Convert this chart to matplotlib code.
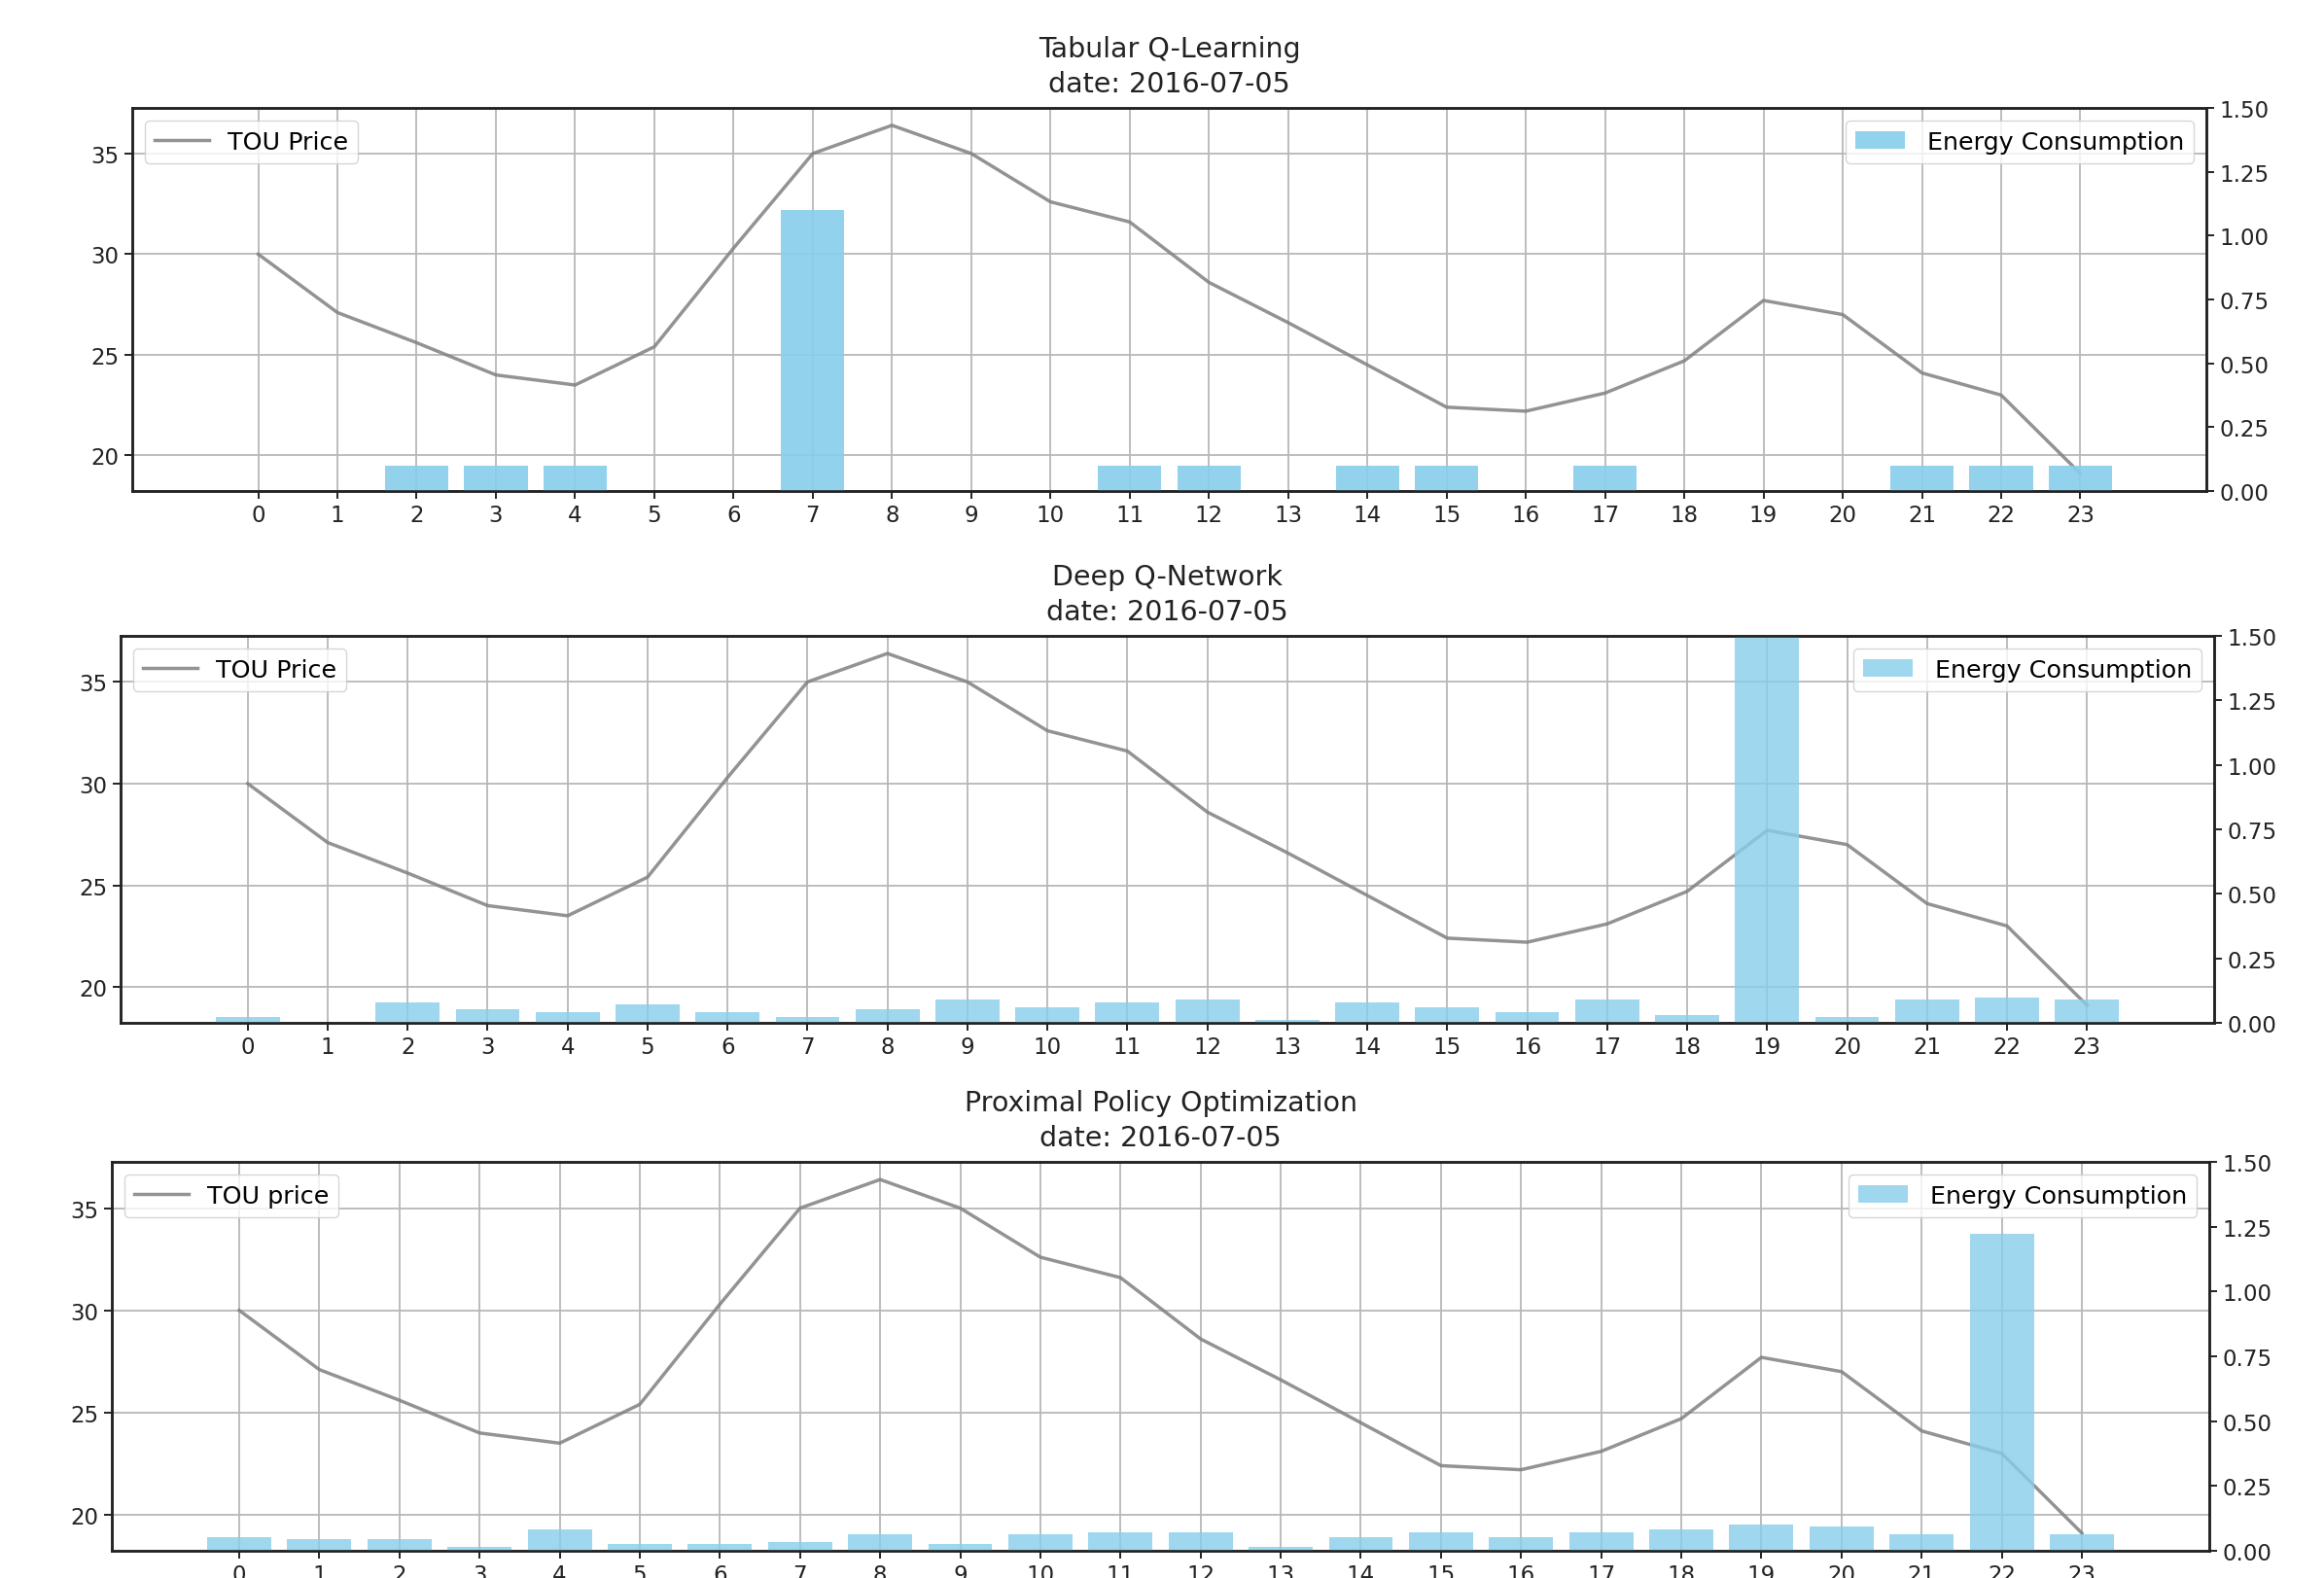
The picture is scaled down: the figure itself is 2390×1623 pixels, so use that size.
import matplotlib
matplotlib.use("Agg")
import matplotlib.pyplot as plt
import numpy as np

hours = list(range(24))
hour_labels = [str(h) for h in hours]

tou_price = [30.0, 27.1, 25.6, 24.0, 23.5, 25.4, 30.3, 35.0, 36.4, 35.0,
             32.6, 31.6, 28.6, 26.6, 24.5, 22.4, 22.2, 23.1, 24.7, 27.7,
             27.0, 24.1, 23.0, 19.1]

energy_tabular = [0.0, 0.0, 0.1, 0.1, 0.1, 0.0, 0.0, 1.1, 0.0, 0.0,
                  0.0, 0.1, 0.1, 0.0, 0.1, 0.1, 0.0, 0.1, 0.0, 0.0,
                  0.0, 0.1, 0.1, 0.1]

energy_dqn = [0.022, 0.0, 0.079, 0.051, 0.040, 0.070, 0.040, 0.022, 0.051, 0.090,
              0.060, 0.079, 0.091, 0.013, 0.081, 0.060, 0.040, 0.091, 0.031, 1.6,
              0.021, 0.091, 0.099, 0.091]

energy_ppo = [0.053, 0.044, 0.044, 0.014, 0.082, 0.025, 0.025, 0.033, 0.063, 0.025,
              0.063, 0.072, 0.072, 0.014, 0.053, 0.072, 0.053, 0.072, 0.082, 0.100,
              0.092, 0.063, 1.223, 0.063]

titles = ["Tabular Q-Learning\ndate: 2016-07-05",
          "Deep Q-Network\ndate: 2016-07-05",
          "Proximal Policy Optimization\ndate: 2016-07-05"]
price_labels = ["TOU Price", "TOU Price", "TOU price"]
energy_sets = [energy_tabular, energy_dqn, energy_ppo]
bar_alphas = [0.9, 0.8, 0.8]

W, H = 2390, 1624
fig = plt.figure(figsize=(W / 100, H / 100), dpi=100)

# axes boxes in pixels: left, right, top, bottom
boxes = [(136, 2269, 112, 506),
         (124, 2277, 655, 1053),
         (115, 2272, 1196, 1596)]

TICK_FS = 16.5
LEG_FS = 18.3
TITLE_FS = 20.5

for i in range(3):
    l, r, t, b = boxes[i]
    ax1 = fig.add_axes([l / W, 1 - b / H, (r - l) / W, (b - t) / H])
    ax2 = ax1.twinx()

    ax1.plot(hours, tou_price, color="gray", linewidth=2.5, alpha=0.85,
             label=price_labels[i])
    ax2.bar(hours, energy_sets[i], width=0.8, color="skyblue",
            alpha=bar_alphas[i], label="Energy Consumption")

    ax2.set_ylim(0, 1.5)
    ax2.set_yticks([0.0, 0.25, 0.5, 0.75, 1.0, 1.25, 1.5])
    ax1.set_xlim(-1.59, 24.59)
    ax1.set_xticks(hours)
    ax1.set_xticklabels(hour_labels)
    ax1.set_yticks([20, 25, 30, 35])
    ax1.grid(True, color="#b8b8b8", linewidth=1.3)
    ax1.set_axisbelow(True)

    for ax in (ax1, ax2):
        ax.tick_params(labelsize=TICK_FS, length=6, width=1.4, colors="#222222")
        for sp in ax.spines.values():
            sp.set_linewidth(1.8)
            sp.set_color("#222222")

    ax1.set_title(titles[i], fontsize=TITLE_FS, pad=12, color="#222222",
                  linespacing=1.4)
    ax1.legend(loc="upper left", fontsize=LEG_FS, handlelength=2.2,
               borderpad=0.4, handletextpad=0.75)
    ax2.legend(loc="upper right", fontsize=LEG_FS, handlelength=2.0,
               borderpad=0.4, handletextpad=0.9)

fig.savefig("out.png", dpi=100, facecolor="white")
